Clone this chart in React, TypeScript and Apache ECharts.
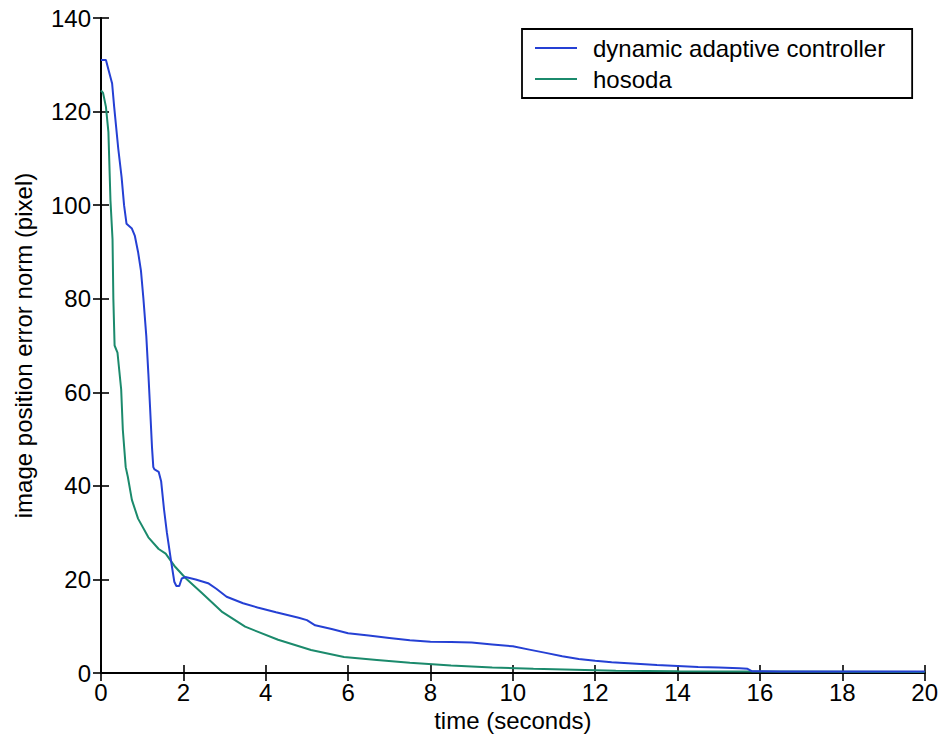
import React, { useEffect, useRef } from "react";
import * as echarts from "echarts";

const adaptiveTime = [0, 0.12, 0.18, 0.27, 0.32, 0.42, 0.5, 0.56, 0.62, 0.75, 0.82, 0.9, 0.97, 1.03, 1.1, 1.15, 1.19, 1.24, 1.27, 1.3, 1.4, 1.46, 1.53, 1.6, 1.7, 1.78, 1.83, 1.9, 1.96, 2.05, 2.3, 2.6, 2.8, 3.05, 3.45, 3.8, 4.25, 4.8, 5.0, 5.2, 5.6, 6.0, 6.5, 7.0, 7.5, 8.0, 8.5, 9.0, 9.5, 10.0, 10.4, 10.8, 11.2, 11.6, 12.0, 12.4, 13.0, 13.5, 14.0, 14.5, 15.0, 15.5, 15.7, 15.8, 16.5, 20];
const adaptiveError = [131, 131, 129, 126, 121, 112, 106, 100, 96, 95, 93.5, 90, 86, 80, 72, 64, 57, 48, 44, 43.5, 43, 41, 35, 30, 24, 19.5, 18.6, 18.6, 20.2, 20.5, 20, 19.2, 18, 16.3, 14.9, 14.0, 13.0, 11.8, 11.3, 10.2, 9.4, 8.5, 8.0, 7.5, 7.0, 6.7, 6.6, 6.5, 6.1, 5.7, 5.0, 4.3, 3.6, 3.0, 2.6, 2.3, 2.0, 1.7, 1.5, 1.3, 1.2, 1.0, 0.9, 0.4, 0.3, 0.3];

const hosodaTime = [0, 0.05, 0.12, 0.18, 0.23, 0.28, 0.3, 0.33, 0.4, 0.49, 0.53, 0.6, 0.65, 0.75, 0.9, 1.15, 1.4, 1.57, 1.8, 2.05, 2.45, 2.95, 3.5, 4.3, 5.1, 5.9, 6.7, 7.5, 8.5, 9.5, 10.5, 11.5, 12.5, 14, 16, 20];
const hosodaError = [124.5, 124, 121, 115.6, 101, 92.7, 80, 70, 68.5, 60.6, 52, 44, 42, 37, 33, 29, 26.5, 25.5, 22.7, 20.3, 17.1, 13, 9.9, 7.1, 4.9, 3.4, 2.8, 2.2, 1.6, 1.2, 0.9, 0.7, 0.5, 0.4, 0.3, 0.2];

const seriesNames = ["dynamic adaptive controller", "hosoda"];
const xTitle = "time (seconds)";
const yTitle = "image position error norm (pixel)";

const FONT = "'Liberation Sans', Arial, sans-serif";
const FS = 24;

export default function App() {
  const ref = useRef<HTMLDivElement>(null);
  useEffect(() => {
    if (!ref.current) return;
    const chart = echarts.init(ref.current, null, { renderer: "svg" });
    const pair = (t: number[], v: number[]) => t.map((x, i) => [x, v[i]]);
    const axisLine = { show: true, lineStyle: { color: "#000", width: 1.8 } };
    const tick = { show: true, inside: true, length: 8, lineStyle: { color: "#000", width: 1.6 } };
    chart.setOption({
      animation: false,
      backgroundColor: "#fff",
      textStyle: { fontFamily: FONT },
      grid: { left: 101, right: 16, top: 18, bottom: 72, containLabel: false },
      legend: {
        show: true,
        orient: "vertical",
        left: 522,
        top: 29,
        data: seriesNames.map((n) => ({ name: n, icon: "rect" })),
        backgroundColor: "#fff",
        borderColor: "#000",
        borderWidth: 1.8,
        borderRadius: 0,
        padding: [7, 27, 7, 13],
        itemWidth: 42,
        itemHeight: 2,
        itemGap: 7,
        textStyle: { fontSize: FS, color: "#000", fontFamily: FONT, padding: [0, 0, 0, 11] },
      },
      xAxis: [
        {
          type: "value",
          min: 0,
          max: 20,
          interval: 2,
          position: "bottom",
          axisLine,
          axisTick: tick,
          splitLine: { show: false },
          axisLabel: { fontSize: FS, color: "#000", margin: 7, fontFamily: FONT },
          name: xTitle,
          nameLocation: "middle",
          nameGap: 34,
          nameTextStyle: { fontSize: FS, color: "#000", fontFamily: FONT },
        },
        {
          type: "value",
          min: 0,
          max: 20,
          interval: 2,
          position: "top",
          axisLine,
          axisTick: tick,
          splitLine: { show: false },
          axisLabel: { show: false },
        },
      ],
      yAxis: [
        {
          type: "value",
          min: 0,
          max: 140,
          interval: 20,
          position: "left",
          axisLine,
          axisTick: tick,
          splitLine: { show: false },
          axisLabel: { fontSize: FS, color: "#000", margin: 10, fontFamily: FONT },
          name: yTitle,
          nameLocation: "middle",
          nameGap: 66,
          nameTextStyle: { fontSize: FS, color: "#000", fontFamily: FONT },
        },
        {
          type: "value",
          min: 0,
          max: 140,
          interval: 20,
          position: "right",
          axisLine,
          axisTick: tick,
          splitLine: { show: false },
          axisLabel: { show: false },
        },
      ],
      series: [
        {
          name: seriesNames[0],
          type: "line",
          xAxisIndex: 0,
          yAxisIndex: 0,
          symbol: "none",
          data: pair(adaptiveTime, adaptiveError),
          lineStyle: { color: "#2540d4", width: 2 },
          itemStyle: { color: "#2540d4" },
          z: 3,
        },
        {
          name: seriesNames[1],
          type: "line",
          xAxisIndex: 0,
          yAxisIndex: 0,
          symbol: "none",
          data: pair(hosodaTime, hosodaError),
          lineStyle: { color: "#1b8a6c", width: 2 },
          itemStyle: { color: "#1b8a6c" },
          z: 2,
        },
      ],
    });
    return () => chart.dispose();
  }, []);
  return (
    <div
      ref={ref}
      style={{ position: "fixed", left: 0, top: 0, width: 941, height: 745 }}
    />
  );
}
